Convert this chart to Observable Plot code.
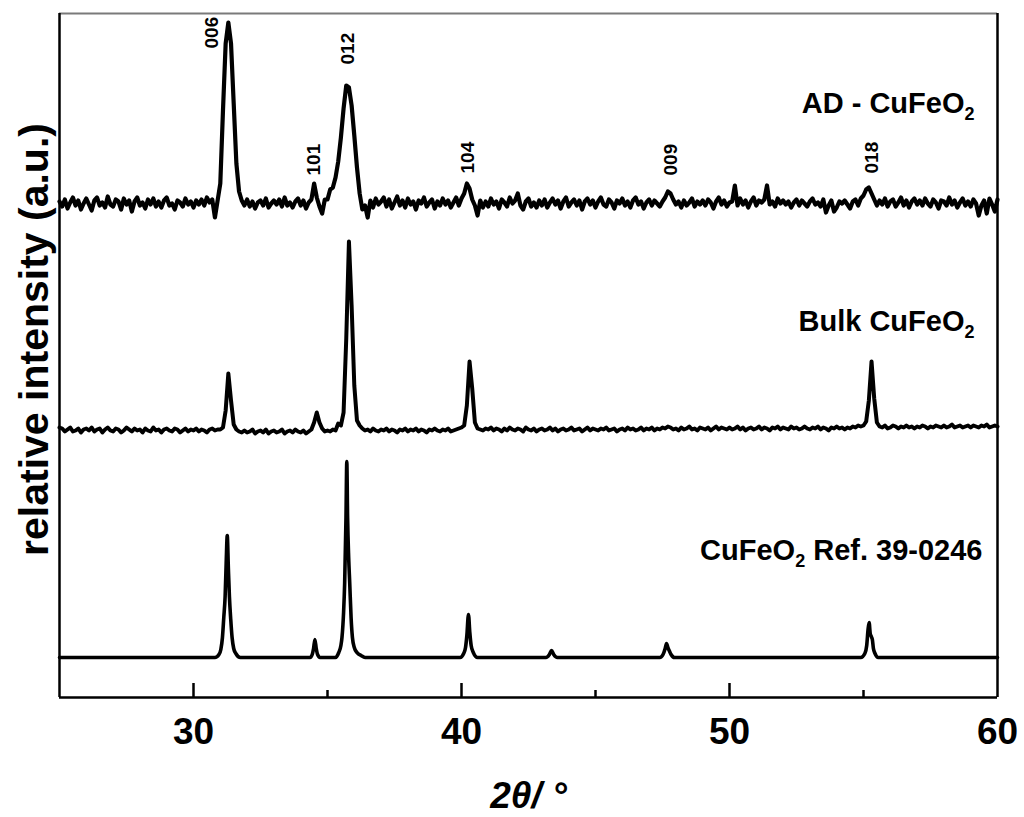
<!DOCTYPE html>
<html><head><meta charset="utf-8">
<script src="https://cdn.jsdelivr.net/npm/d3@7"></script>
<script src="https://cdn.jsdelivr.net/npm/@observablehq/plot@0.6"></script>
<style>html,body{margin:0;padding:0;background:#fff;overflow:hidden}</style>
</head><body><div id="chart"></div>
<script>
// ---------------- DATA ----------------
// Measured patterns on a 2θ grid: 25.0° … 60.0° every 0.1°
const angleStart = 25, angleStep = 0.1;

// AD - CuFeO2 (intensity above its own baseline, a.u.)
const adIntensity = [
  2, -3, 4, -5, 1, 6, -2, 3, -6, 0,
  5, -1, -7, 3, 6, -2, 1, -4, 7, -1,
  -3, 4, 2, -6, 5, -1, 3, -8, 2, 6,
  -2, 1, -5, 4, -1, 5, -3, 2, -4, 3,
  6, -2, 0, -6, 3, 1, -3, 5, -1, 2,
  -4, 3, -1, 4, -2, 6, 1, 4, -14, 3,
  20, 93, 160, 181, 160, 100, 40, 12, 3, -2,
  4, -3, 2, -5, 1, 3, -2, 5, -4, 0,
  3, -1, 4, -3, 6, -2, 1, -4, 2, 5,
  -2, 3, -5, 1, 4, 20, 6, -3, -10, 4,
  4, 14, 16, 26, 42, 66, 95, 118, 116, 98,
  68, 36, 10, -6, -2, -14, 3, -4, 5, -1,
  2, 6, -3, 4, -5, 1, 7, -2, 3, -4,
  5, -1, 2, -6, 3, 0, 6, -3, 1, 4,
  -5, 2, -2, 5, -1, 3, -4, 1, 6, -2,
  5, 10, 20, 15, 4, -2, -12, 3, -4, 2,
  -3, 5, -1, 2, -5, 4, 1, -3, 6, 0,
  3, 10, -2, -6, 2, 5, -3, 1, -4, 3,
  -2, 4, -4, 1, 5, -1, 3, -5, 2, 6,
  -3, 1, 4, -2, 3, -6, 2, 5, -1, 3,
  -4, 2, 6, -1, -3, 4, 1, -5, 3, 0,
  5, -2, 2, -4, 3, 6, -1, 2, -5, 1,
  4, -2, 3, 0, -3, 2, 6, 12, 10, 4,
  -1, 2, -4, 3, -2, 1, 5, -3, 2, -1,
  3, -2, 4, 1, -5, 2, 6, -1, 3, -3,
  1, 2, 18, -2, 5, -1, 3, -4, 2, 6,
  -2, 3, 1, 4, 18, -1, 2, -3, 5, 0,
  3, -1, 2, -4, 1, 4, -2, 3, 0, -3,
  2, 5, -1, 1, -3, 4, -9, -2, 3, -8,
  -4, 2, 0, 3, -1, -5, 2, 4, -2, 5,
  8, 14, 16, 10, 4, -2, 3, -1, 5, -3,
  2, 4, -3, 1, 6, -2, 3, -4, 2, 5,
  -1, 3, -2, 5, 0, -3, 4, 1, -5, 3,
  2, -2, 6, -1, 3, -4, 1, 5, -2, 2,
  -3, 4, 0, -12, -2, 3, -10, 5, -1, -8,
  4
];

// Bulk CuFeO2 (intensity above its own baseline, a.u.)
const bulkIntensity = [
  3, 2, -1, 1, 3, -1, 0, 2, -2, 1,
  2, 0, 3, -1, 1, 2, -2, 1, 3, 0,
  -1, 2, 1, -2, 0, 3, 1, -1, 2, 0,
  1, -2, 2, 0, -1, 3, 0, 1, -2, 1,
  2, 0, -1, 2, 1, -2, 0, 2, -1, 1,
  0, 2, -1, 1, 0, -2, 1, 2, 0, 1,
  1, 3, 20, 57, 30, 6, 1, -1, -2, 0,
  -2, -1, 1, -3, -1, 0, -2, 1, -3, -1,
  0, -2, -1, 1, -3, -1, 0, -2, 1, -1,
  -2, 0, -3, -1, 1, 8, 18, 8, 2, -1,
  0, -1, 1, 0, 7, 5, 18, 92, 189, 125,
  45, 10, 5, 2, 0, 1, -1, 2, 0, -1,
  1, 0, 2, -1, 1, 0, -2, 1, 0, 2,
  -1, 1, 0, 2, -1, 1, 0, -2, 1, 0,
  2, 0, -1, 1, 0, 2, -1, 0, 1, 2,
  3, 5, 25, 69, 42, 8, 2, 1, 0, 2,
  1, 3, 0, 2, 1, -1, 2, 0, 3, 1,
  0, 2, 1, -1, 3, 1, 0, 2, -1, 1,
  2, 0, 1, 3, 0, 2, -1, 1, 2, 0,
  1, 3, 0, 1, 2, -1, 1, 3, 0, 2,
  1, 0, 2, 1, 3, 0, 1, 2, -1, 1,
  2, 0, 3, 1, 2, 0, 1, 3, 0, 2,
  1, 3, 0, 2, 1, 3, 2, 4, 3, 1,
  2, 0, 3, 1, 2, 4, 1, 2, 0, 3,
  2, 1, 3, 0, 2, 4, 1, 3, 2, 1,
  3, 1, 2, 4, 1, 3, 0, 2, 3, 1,
  2, 4, 1, 3, 2, 0, 3, 2, 4, 1,
  3, 2, 1, 4, 2, 3, 1, 2, 4, 2,
  1, 3, 2, 4, 1, 3, 2, 0, 3, 2,
  4, 2, 3, 1, 3, 2, 4, 3, 5, 4,
  5, 9, 30, 69, 32, 8, 4, 3, 5, 2,
  3, 5, 4, 2, 4, 3, 5, 3, 4, 2,
  4, 3, 5, 4, 2, 4, 3, 5, 4, 3,
  5, 3, 4, 6, 3, 4, 5, 3, 4, 5,
  3, 5, 4, 3, 5, 4, 6, 3, 4, 5,
  4
];

// CuFeO2 reference pattern 39-0246 (smooth profile, sampled where it changes)
const refAngles = [
  25, 30.8, 30.95, 31.02, 31.08, 31.13, 31.18, 31.22, 31.26, 31.3, 31.34, 31.39, 31.44, 31.5, 31.58, 31.75,
  34.35, 34.43, 34.48, 34.53, 34.58, 34.63, 34.72,
  35.3, 35.42, 35.5, 35.54, 35.6, 35.64, 35.69, 35.72, 35.75, 35.79, 35.83, 35.88, 35.93, 36.0, 36.1, 36.25, 36.4,
  39.95, 40.08, 40.15, 40.2, 40.26, 40.31, 40.36, 40.44, 40.6,
  43.15, 43.28, 43.36, 43.44, 43.58,
  47.4, 47.52, 47.6, 47.65, 47.7, 47.75, 47.82, 47.95,
  54.9, 55.05, 55.12, 55.17, 55.21, 55.25, 55.29, 55.33, 55.37, 55.43, 55.55,
  60
];
const refIntensity = [
  0, 0, 3, 8, 20, 40, 61, 95, 122, 90, 61, 38, 20, 9, 4, 0,
  0, 3, 9, 18, 9, 3, 0,
  0, 5, 12, 20, 45, 74, 140, 196, 140, 100, 74, 40, 20, 10, 5, 2, 0,
  0, 4, 10, 22, 43, 25, 12, 5, 0,
  0, 3, 7, 3, 0,
  0, 3, 9, 14, 10, 7, 3, 0,
  0, 4, 12, 28, 35, 24, 21, 18, 9, 4, 0,
  0
];

const seriesNames = ["AD - CuFeO₂", "Bulk CuFeO₂", "CuFeO₂ Ref. 39-0246"];

// Reflection labels (hkl) above the AD pattern
const peakLabels = ["006", "101", "012", "104", "009", "018"];
const peakLabelAngles = [30.7, 34.48, 35.75, 40.23, 47.8, 55.3];
const peakLabelLevels = [155, 28, 139, 30, 28, 30];

const xTickLabels = [30, 40, 50, 60];
const xMinorTicks = [35, 45, 55];
const yLabel = "relative intensity (a.u.)";
const xLabel = "2θ/ °";

// ---------------- LAYOUT ----------------
const offsets = [494, 267, 40];          // vertical stacking offsets (a.u.)
const labelLift = [111, 120, 118];       // series label height above baseline
const labelDx = [-23, -23, -15];

const ad = adIntensity.map((v, i) => ({angle: +(angleStart + i * angleStep).toFixed(2), value: v + offsets[0]}));
const bulk = bulkIntensity.map((v, i) => ({angle: +(angleStart + i * angleStep).toFixed(2), value: v + offsets[1]}));
const ref = refAngles.map((a, i) => ({angle: a, value: refIntensity[i] + offsets[2]}));
const peakRows = peakLabels.map((l, i) => ({label: l, angle: peakLabelAngles[i], level: peakLabelLevels[i] + offsets[0]}));

const font = "'Liberation Sans', Arial, Helvetica, sans-serif";

const chart = Plot.plot({
  width: 1024,
  height: 817,
  marginLeft: 59,
  marginRight: 27,
  marginTop: 13,
  marginBottom: 120,
  style: {fontFamily: font, background: "white", color: "black"},
  x: {domain: [25, 60]},
  y: {domain: [0, 684], axis: null},
  marks: [
    // frame
    Plot.ruleY([684], {stroke: "#7a7a7a", strokeWidth: 2}),
    Plot.ruleX([25, 60], {stroke: "black", strokeWidth: 2.5}),
    Plot.ruleY([0], {stroke: "black", strokeWidth: 2.5}),
    // inward ticks
    Plot.tickX(xTickLabels.filter(t => t < 60), {insetTop: 670, stroke: "black", strokeWidth: 2.5}),
    Plot.tickX(xMinorTicks, {insetTop: 677, stroke: "black", strokeWidth: 2.5}),
    Plot.axisX(xTickLabels, {tickSize: 0, tickPadding: 20, fontSize: 37, fontWeight: "bold", label: null}),
    // patterns
    Plot.line(ref, {x: "angle", y: "value", curve: "monotone-x", stroke: "black", strokeWidth: 3.6, strokeLinejoin: "round"}),
    Plot.line(bulk, {x: "angle", y: "value", stroke: "black", strokeWidth: 4, strokeLinejoin: "round"}),
    Plot.line(ad, {x: "angle", y: "value", stroke: "black", strokeWidth: 4.2, strokeLinejoin: "round"}),
    // series labels
    ...seriesNames.map((name, i) => Plot.text([name], {
      x: () => 60, y: () => offsets[i] + labelLift[i], text: d => d,
      textAnchor: "end", lineAnchor: "top", dx: labelDx[i],
      fontSize: 29, fontWeight: "bold", fill: "black"
    })),
    // hkl labels
    Plot.text(peakRows, {x: "angle", y: "level", text: "label", rotate: -90, textAnchor: "start",
      fontSize: 19, fontWeight: "bold", fill: "black"}),
    // axis titles
    Plot.text([yLabel], {frameAnchor: "left", textAnchor: "middle", rotate: -90, dx: -25, dy: -16, text: d => d,
      fontSize: 41, fontWeight: "bold", fill: "black"}),
    Plot.text([xLabel], {frameAnchor: "bottom", textAnchor: "middle", lineAnchor: "top", dy: 84, text: d => d,
      fontSize: 37, fontWeight: "bold", fontStyle: "italic", fill: "black"})
  ]
});

// subscript "2" in chemical formulas
const svgNS = "http://www.w3.org/2000/svg";
chart.querySelectorAll("text").forEach(t => {
  if (!t.textContent.includes("₂")) return;
  const parts = t.textContent.split("₂");
  t.textContent = "";
  t.appendChild(document.createTextNode(parts[0]));
  const sub = document.createElementNS(svgNS, "tspan");
  sub.setAttribute("font-size", "18");
  sub.setAttribute("dy", "7");
  sub.textContent = "2";
  t.appendChild(sub);
  if (parts[1]) {
    const rest = document.createElementNS(svgNS, "tspan");
    rest.setAttribute("dy", "-7");
    rest.textContent = parts[1];
    t.appendChild(rest);
  }
});

document.getElementById("chart").appendChild(chart);
</script>
</body></html>
